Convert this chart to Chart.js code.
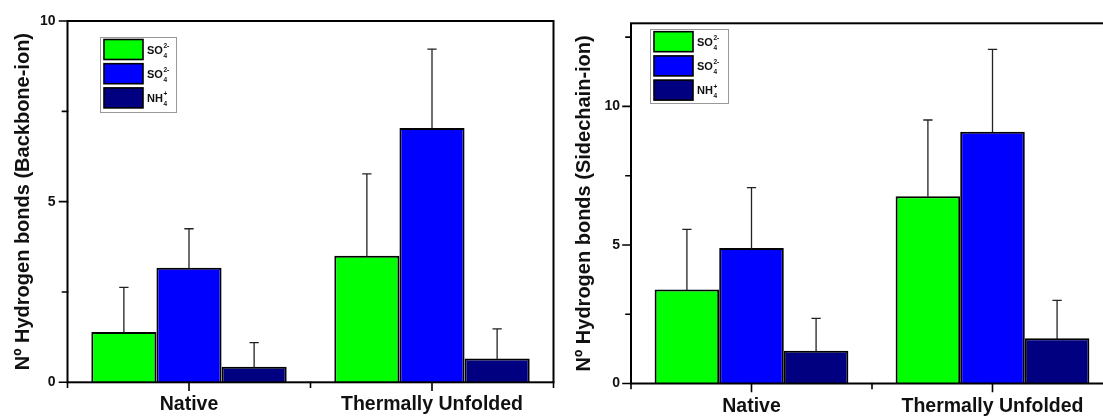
<!DOCTYPE html>
<html><head><meta charset="utf-8">
<script src="https://cdn.jsdelivr.net/npm/chart.js@4/dist/chart.umd.min.js"></script>
<style>
html,body{margin:0;padding:0;background:#fff;}
#wrap{position:relative;width:1103px;height:417px;overflow:hidden;background:#fff;}
#c1{position:absolute;left:0;top:0;}
#c2{position:absolute;left:560px;top:0;}
</style></head><body>
<div id="wrap"><canvas id="c1" width="560" height="417"></canvas><canvas id="c2" width="560" height="417"></canvas></div>
<script>
// ---- data ----
const categories = ['Native', 'Thermally Unfolded'];
const seriesLabels = ['SO\u2084\u00B2\u207B', 'SO\u2084\u00B2\u207B', 'NH\u2084\u207A'];
const legendParts = [
  {base: 'SO', sup: '2-', sub: '4'},
  {base: 'SO', sup: '2-', sub: '4'},
  {base: 'NH', sup: '+', sub: '4'}
];
// Backbone-ion (left)
const backboneGreen = [1.39, 3.50];
const backboneBlue  = [3.17, 7.04];
const backboneNavy  = [0.43, 0.66];
const backboneGreenErr = [1.24, 2.27];
const backboneBlueErr  = [1.08, 2.18];
const backboneNavyErr  = [0.67, 0.82];
// Sidechain-ion (right)
const sidechainGreen = [3.39, 6.76];
const sidechainBlue  = [4.89, 9.09];
const sidechainNavy  = [1.18, 1.63];
const sidechainGreenErr = [2.17, 2.75];
const sidechainBlueErr  = [2.18, 2.97];
const sidechainNavyErr  = [1.17, 1.37];
// tick labels
const yMajorTicks = [0, 5, 10];
const yMinorLeft = [2.5, 7.5];
const yMinorRight = [2.5, 7.5, 12.5];

const colors = ['#00FF00', '#0000FF', '#000080'];
const FONT = "'Liberation Sans', Arial, Helvetica, sans-serif";

const frameAndTicks = {
  id: 'frameAndTicks',
  afterDatasetsDraw(chart, args, opts) {
    const {ctx, chartArea: a, scales: {x, y}} = chart;
    ctx.save();
    ctx.lineCap = 'square';
    // error bars
    chart.data.datasets.forEach((ds, i) => {
      const meta = chart.getDatasetMeta(i);
      meta.data.forEach((el, j) => {
        const top = y.getPixelForValue(ds.data[j] + ds.errors[j]);
        ctx.lineWidth = 1.3;
        ctx.strokeStyle = '#222';
        ctx.beginPath();
        ctx.moveTo(el.x, el.y);
        ctx.lineTo(el.x, top);
        ctx.moveTo(el.x - 4, top);
        ctx.lineTo(el.x + 4, top);
        ctx.stroke();
      });
    });
    ctx.strokeStyle = '#000';
    ctx.lineWidth = 2;
    ctx.strokeRect(a.left, a.top, a.right - a.left, a.bottom - a.top);
    // y ticks
    ctx.lineWidth = 1.6;
    ctx.beginPath();
    yMajorTicks.forEach(v => { const p = y.getPixelForValue(v); ctx.moveTo(a.left, p); ctx.lineTo(a.left - 8, p); });
    opts.yMinor.forEach(v => { const p = y.getPixelForValue(v); ctx.moveTo(a.left, p); ctx.lineTo(a.left - 5, p); });
    // x ticks
    categories.forEach((c, i) => { const p = x.getPixelForValue(i); ctx.moveTo(p, a.bottom); ctx.lineTo(p, a.bottom + 8); });
    [-0.5, 0.5, 1.5].forEach(v => { const p = x.getPixelForValue(v); ctx.moveTo(p, a.bottom); ctx.lineTo(p, a.bottom + 5); });
    ctx.stroke();
    // legend
    const L = opts.legend;
    ctx.lineWidth = 1;
    ctx.strokeStyle = '#999';
    ctx.fillStyle = '#fff';
    ctx.fillRect(L.x, L.y, L.w, L.h);
    ctx.strokeRect(L.x + 0.5, L.y + 0.5, L.w, L.h);
    chart.data.datasets.forEach((ds, i) => {
      const sy = L.y + L.first + i * L.step;
      ctx.fillStyle = ds.backgroundColor;
      ctx.fillRect(L.x + 4, sy, L.sw, L.sh);
      ctx.strokeStyle = '#000';
      ctx.lineWidth = 1.6;
      ctx.strokeRect(L.x + 4, sy, L.sw, L.sh);
      const part = legendParts[i];
      const cy = sy + L.sh / 2;
      const tx = L.x + 4 + L.sw + 4;
      ctx.fillStyle = '#111';
      ctx.textBaseline = 'alphabetic';
      ctx.textAlign = 'left';
      ctx.font = 'bold 11px ' + FONT;
      ctx.fillText(part.base, tx, cy + 4);
      const w = ctx.measureText(part.base).width;
      ctx.font = 'bold 6.5px ' + FONT;
      ctx.fillText(part.sup, tx + w + 0.5, cy - 1.5);
      ctx.fillText(part.sub, tx + w + 0.5, cy + 8);
    });
    ctx.restore();
  }
};

function makeChart(id, data, errs, title, yMax, yMinor, geom, legend) {
  return new Chart(document.getElementById(id), {
    type: 'bar',
    data: {
      labels: categories,
      datasets: data.map((d, i) => ({
        label: seriesLabels[i],
        data: d,
        errors: errs[i],
        backgroundColor: colors[i],
        borderColor: '#000',
        borderWidth: 2,
        barPercentage: 1,
        categoryPercentage: 0.804
      }))
    },
    options: {
      responsive: false,
      animation: false,
      layout: {padding: {top: geom.top, right: geom.right, left: 0, bottom: 0}},
      plugins: {
        legend: {display: false},
        tooltip: {enabled: false},
        frameAndTicks: {yMinor: yMinor, legend: legend}
      },
      scales: {
        x: {
          offset: true,
          grid: {display: false, drawTicks: false},
          border: {display: false},
          ticks: {color: '#111', padding: 11, font: {family: FONT, size: 19.5, weight: 'bold'}, maxRotation: 0},
          afterFit: s => { s.height = geom.xh; }
        },
        y: {
          min: 0, max: yMax,
          grid: {display: false, drawTicks: false},
          border: {display: false},
          afterBuildTicks: s => { s.ticks = yMajorTicks.map(v => ({value: v})); },
          ticks: {color: '#111', padding: geom.tp, font: {family: FONT, size: 14, weight: 'bold'}},
          title: {display: true, text: title, color: '#111', padding: {top: geom.titlePad, bottom: 0}, font: {family: FONT, size: 20, weight: 'bold'}},
          afterFit: s => { s.width = geom.yw; }
        }
      }
    },
    plugins: [frameAndTicks]
  });
}

makeChart('c1', [backboneGreen, backboneBlue, backboneNavy],
  [backboneGreenErr, backboneBlueErr, backboneNavyErr],
  'N\u00BA Hydrogen bonds (Backbone-ion)', 10, yMinorLeft,
  {top: 21, right: 6.5, xh: 34.7, yw: 67.5, tp: 12, titlePad: 11},
  {x: 100, y: 37, w: 76, h: 75, first: 2.5, step: 24.2, sw: 39, sh: 20});

makeChart('c2', [sidechainGreen, sidechainBlue, sidechainNavy],
  [sidechainGreenErr, sidechainBlueErr, sidechainNavyErr],
  'N\u00BA Hydrogen bonds (Sidechain-ion)', 13, yMinorRight,
  {top: 23.3, right: 7, xh: 33.5, yw: 71, tp: 11, titlePad: 12},
  {x: 90, y: 29, w: 78, h: 74, first: 2.7, step: 24.2, sw: 39, sh: 20});
</script>
</body></html>
